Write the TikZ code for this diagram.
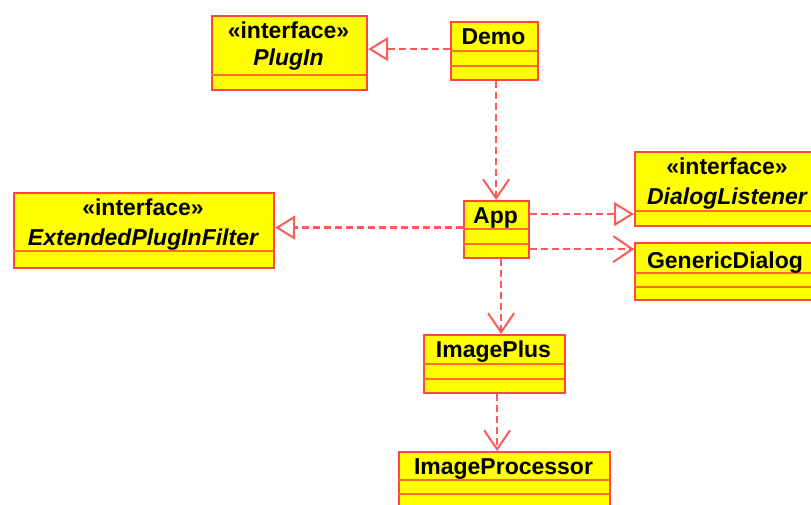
\documentclass[tikz,border=0pt]{standalone}
\usepackage{fontspec}
\setmainfont{Liberation Sans}
\usetikzlibrary{arrows.meta}
\definecolor{boxfill}{RGB}{255,255,0}
\definecolor{boxline}{RGB}{255,70,70}
\definecolor{sepline}{RGB}{255,110,40}
\definecolor{conn}{RGB}{255,90,90}
\tikzset{
  cls/.style={draw=boxline, fill=boxfill, line width=2.2pt, rectangle, inner sep=0pt, anchor=north west},
  sepl/.style={draw=sepline, line width=2.2pt},
  lbl/.style={anchor=base, inner sep=0pt, font=\fontsize{23}{26}\selectfont\bfseries},
  ilbl/.style={lbl, font=\fontsize{23}{26}\selectfont\bfseries\itshape},
  dep/.style={draw=conn, line width=2.2pt, dash pattern=on 7pt off 4pt, -{Straight Barb[length=19pt,width=26pt,line width=2pt]}},
  real/.style={draw=conn, line width=2.2pt, dash pattern=on 7pt off 4pt, -{Triangle[open,length=20pt,width=24pt,line width=2pt,fill=white]}}
}
\begin{document}
\begin{tikzpicture}[x=1pt,y=-1pt]
\useasboundingbox (0,0) rectangle (811,505);
% boxes
\node[cls, minimum width=155pt, minimum height=74pt] (plugin) at (211,15) {};
\node[cls, minimum width=87pt, minimum height=58pt] (demo) at (450,21) {};
\node[cls, minimum width=260pt, minimum height=75pt] (epf) at (13,192) {};
\node[cls, minimum width=65pt, minimum height=57pt] (app) at (463,200) {};
\node[cls, minimum width=186pt, minimum height=74pt] (dl) at (634,151) {};
\node[cls, minimum width=186pt, minimum height=57pt] (gd) at (634,242) {};
\node[cls, minimum width=141pt, minimum height=58pt] (ip) at (423,334) {};
\node[cls, minimum width=211pt, minimum height=58pt] (iproc) at (398,451) {};
% separators
\draw[sepl] (211,75) -- (366,75);
\draw[sepl] (450,51) -- (537,51);
\draw[sepl] (450,66) -- (537,66);
\draw[sepl] (13,251) -- (273,251);
\draw[sepl] (463,229) -- (528,229);
\draw[sepl] (463,244) -- (528,244);
\draw[sepl] (634,211) -- (820,211);
\draw[sepl] (634,273) -- (820,273);
\draw[sepl] (634,287) -- (820,287);
\draw[sepl] (423,364) -- (564,364);
\draw[sepl] (423,379) -- (564,379);
\draw[sepl] (398,480) -- (609,480);
\draw[sepl] (398,494) -- (609,494);
% labels
\node[lbl] (pluginst) at (288.5,39) {«interface»};
\node[ilbl] (pluginname) at (288.5,66) {PlugIn};
\node[lbl] (demoname) at (493.5,45) {Demo};
\node[lbl] (epfst) at (143,215) {«interface»};
\node[ilbl] (epfname) at (143,245) {ExtendedPlugInFilter};
\node[lbl] (appname) at (495.5,223) {App};
\node[lbl] (dlst) at (727,175) {«interface»};
\node[ilbl] (dlname) at (727,205) {DialogListener};
\node[lbl] (gdname) at (725,268) {GenericDialog};
\node[lbl] (ipname) at (493.5,357) {ImagePlus};
\node[lbl] (iprocname) at (503.5,474) {ImageProcessor};
% connectors
\draw[real] ([yshift=2pt]demo.west) -- ([yshift=2pt]demo.west -| plugin.east);
\draw[dep] ([xshift=1.5pt]demo.south) -- ([xshift=1.5pt]demo.south |- app.north);
\draw[real] ([yshift=2pt]app.west) -- ([yshift=2pt]app.west -| epf.east);
\draw[real] ([yshift=15.5pt]app.east) -- ([yshift=15.5pt]app.east -| dl.west);
\draw[dep] ([yshift=-19.5pt]app.east) -- ([yshift=-19.5pt]app.east -| gd.west);
\draw[dep] ([xshift=4.5pt]app.south) -- ([xshift=4.5pt]app.south |- ip.north);
\draw[dep] ([xshift=2.5pt]ip.south) -- ([xshift=2.5pt]ip.south |- iproc.north);
\end{tikzpicture}
\end{document}
